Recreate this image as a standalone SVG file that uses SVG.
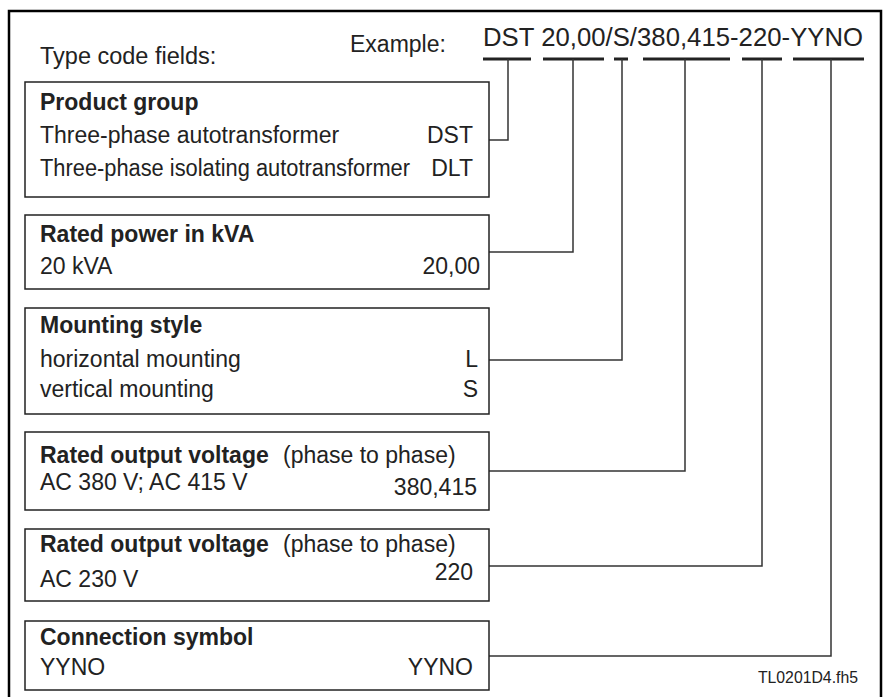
<svg xmlns="http://www.w3.org/2000/svg" width="883" height="697" viewBox="0 0 883 697">
<style>
text{font-family:"Liberation Sans",Arial,sans-serif;fill:#222;}
.t{font-size:23px;}
.b{font-size:23px;font-weight:bold;}
.r{text-anchor:end;}
.box{fill:none;stroke:#222;stroke-width:1.5;}
.ul{stroke:#222;stroke-width:3;fill:none;}
.cn{stroke:#333;stroke-width:1.5;fill:none;}
</style>
<rect width="883" height="697" fill="#fff"/>
<path d="M9,697 V11 H881 V697" fill="none" stroke="#000" stroke-width="2.5"/>
<g id="header">
<text x="40" y="64" style="font-size:23.5px">Type code fields:</text>
<text x="350" y="52" class="t">Example:</text>
<text x="483" y="46" style="font-size:25.7px" textLength="380">DST 20,00/S/380,415-220-YYNO</text>
</g>
<g id="connectors">
<path class="ul" d="M483,59 H531 M543,59 H604 M614,59 H628 M643,59 H730 M742,59 H782 M793,59 H864"/>
<path class="cn" d="M508,59 V140 H489"/>
<path class="cn" d="M573,59 V252 H489"/>
<path class="cn" d="M622,59 V360 H489"/>
<path class="cn" d="M685,59 V471 H489"/>
<path class="cn" d="M762,59 V566 H489"/>
<path class="cn" d="M831,59 V656 H489"/>
</g>
<g id="product-group">
<rect class="box" x="25" y="82" width="464" height="115"/>
<text x="40" y="110" class="b">Product group</text>
<text x="40" y="143" class="t">Three-phase autotransformer</text>
<text x="473" y="143" class="t r">DST</text>
<text x="40" y="176" class="t" textLength="370" lengthAdjust="spacingAndGlyphs">Three-phase isolating autotransformer</text>
<text x="473" y="176" class="t r">DLT</text>
</g>
<g id="rated-power">
<rect class="box" x="25" y="215" width="464" height="74"/>
<text x="40" y="242" class="b">Rated power in kVA</text>
<text x="40" y="274" class="t">20 kVA</text>
<text x="480" y="274" class="t r">20,00</text>
</g>
<g id="mounting-style">
<rect class="box" x="25" y="308" width="464" height="106"/>
<text x="40" y="333" class="b">Mounting style</text>
<text x="40" y="367" class="t">horizontal mounting</text>
<text x="478" y="367" class="t r">L</text>
<text x="40" y="397" class="t">vertical mounting</text>
<text x="478" y="397" class="t r">S</text>
</g>
<g id="rated-output-1">
<rect class="box" x="25" y="432" width="464" height="78"/>
<text x="40" y="463" class="b">Rated output voltage<tspan style="font-weight:normal" x="283">(phase to phase)</tspan></text>
<text x="40" y="490" class="t">AC 380 V; AC 415 V</text>
<text x="477" y="495" class="t r">380,415</text>
</g>
<g id="rated-output-2">
<rect class="box" x="25" y="529" width="464" height="72"/>
<text x="40" y="552" class="b">Rated output voltage<tspan style="font-weight:normal" x="283">(phase to phase)</tspan></text>
<text x="40" y="587" class="t">AC 230 V</text>
<text x="473" y="580" class="t r">220</text>
</g>
<g id="connection-symbol">
<rect class="box" x="25" y="621" width="464" height="69"/>
<text x="40" y="645" class="b">Connection symbol</text>
<text x="40" y="675" class="t">YYNO</text>
<text x="473" y="675" class="t r">YYNO</text>
</g>
<text x="858" y="683" class="r" style="font-size:15.8px">TL0201D4.fh5</text>
</svg>
